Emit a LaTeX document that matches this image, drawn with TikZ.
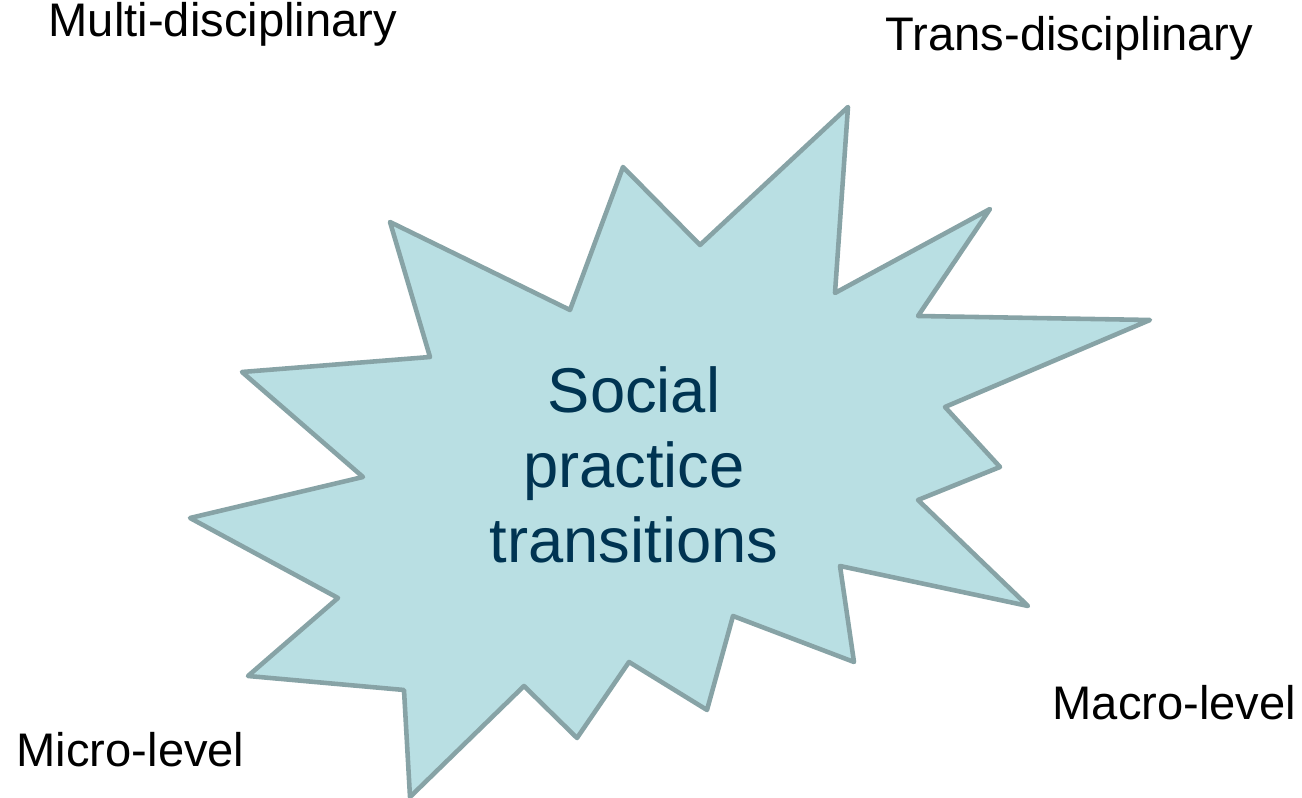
\documentclass[tikz,border=0pt]{standalone}
\usepackage{fontspec}
\setmainfont{Liberation Sans}
\definecolor{burstfill}{HTML}{B9DFE3}
\definecolor{burstline}{HTML}{87A3A6}
\definecolor{textblue}{HTML}{003452}
\begin{document}
\begin{tikzpicture}[x=0.01cm,y=-0.01cm,
  burst/.style={fill=burstfill,draw=burstline,line width=1.3pt,line join=round},
  center/.style={anchor=base,inner sep=0pt,text=textblue,font=\fontsize{18}{21}\selectfont},
  label/.style={anchor=base west,inner sep=0pt,text=black,font=\fontsize{13.4}{15}\selectfont}]
\useasboundingbox (0,0) rectangle (1302,798);
\draw[burst] (848,107) -- (835,293) -- (990,209) -- (918,316) -- (1150,320)
  -- (945,407) -- (1000,467) -- (918,500) -- (1028,606) -- (840,566)
  -- (854,662) -- (733,616) -- (707,710) -- (629,662) -- (577,738)
  -- (524,686) -- (410,797) -- (404,690) -- (248,676) -- (338,598)
  -- (190,518) -- (363,477) -- (242,372) -- (430,357) -- (390,222)
  -- (570,310) -- (623,167) -- (700,245) -- cycle;
\node[center] (l1) at (634,413) {Social};
\node[center] (l2) at (634,488) {practice};
\node[center] (l3) at (634,563) {transitions};
\node[label] (multi) at (48,37) {Multi-disciplinary};
\node[label] (trans) at (885,51) {Trans-disciplinary};
\node[label] (macro) at (1052,720) {Macro-level};
\node[label] (micro) at (16,767) {Micro-level};
\end{tikzpicture}
\end{document}
